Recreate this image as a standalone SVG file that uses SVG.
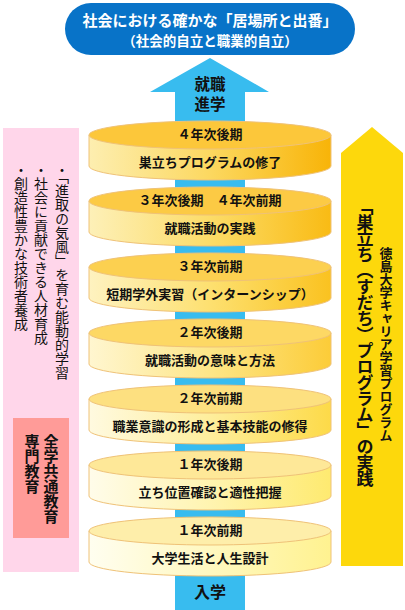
<svg xmlns="http://www.w3.org/2000/svg" width="405" height="610" viewBox="0 0 405 610">
<defs>
<style>
text{font-family:"Noto Sans CJK JP","Noto Sans",sans-serif;}
.b{font-weight:bold;}
.lbl{font-size:13px;font-weight:bold;fill:#111;text-anchor:middle;}
.cyl path,.cyl ellipse{stroke:#efc278;stroke-width:1;}
.vt{writing-mode:vertical-rl;}
</style>
<linearGradient id="g1" x1="0" x2="1" y1="0" y2="0"><stop offset="0" stop-color="#fdeeb0"/><stop offset="0.5" stop-color="#fcd860"/><stop offset="1" stop-color="#f8b408"/></linearGradient>
<linearGradient id="g2" x1="0" x2="1" y1="0" y2="0"><stop offset="0" stop-color="#fdf0b8"/><stop offset="0.5" stop-color="#fcdc68"/><stop offset="1" stop-color="#f9bb14"/></linearGradient>
<linearGradient id="g3" x1="0" x2="1" y1="0" y2="0"><stop offset="0" stop-color="#fef2c0"/><stop offset="0.5" stop-color="#fde070"/><stop offset="1" stop-color="#fac220"/></linearGradient>
<linearGradient id="g4" x1="0" x2="1" y1="0" y2="0"><stop offset="0" stop-color="#fff6d0"/><stop offset="0.5" stop-color="#fde688"/><stop offset="1" stop-color="#fccc38"/></linearGradient>
<linearGradient id="g5" x1="0" x2="1" y1="0" y2="0"><stop offset="0" stop-color="#fffae0"/><stop offset="0.5" stop-color="#feee9c"/><stop offset="1" stop-color="#fdda48"/></linearGradient>
<linearGradient id="g6" x1="0" x2="1" y1="0" y2="0"><stop offset="0" stop-color="#fffcea"/><stop offset="0.5" stop-color="#fff4b0"/><stop offset="1" stop-color="#feea70"/></linearGradient>
<linearGradient id="g7" x1="0" x2="1" y1="0" y2="0"><stop offset="0" stop-color="#fffef0"/><stop offset="0.5" stop-color="#fff8c0"/><stop offset="1" stop-color="#fff290"/></linearGradient>
</defs>
<rect width="405" height="610" fill="#ffffff"/>

<g id="left-panel">
<rect x="3" y="128" width="76" height="444" fill="#ffd6ea"/>
<text class="vt" x="62" y="163" font-size="14" fill="#111">・「進取の気風」を育む能動的学習</text>
<text class="vt" x="41" y="163" font-size="14" fill="#111">・社会に貢献できる人材育成</text>
<text class="vt" x="21" y="163" font-size="14" fill="#111">・創造性豊かな技術者養成</text>
</g>
<g id="education-box">
<rect x="13" y="418" width="56" height="120" fill="#ff9b98"/>
<text class="vt b" x="51" y="434" font-size="15" fill="#111">全学共通教育</text>
<text class="vt b" x="32" y="434" font-size="15" fill="#111">専門教育</text>
</g>

<g id="program-arrow">
<polygon points="341,153 372,127 403,153 403,566 341,566" fill="#fdd80c"/>
<text class="vt b" x="386" y="247" font-size="13" fill="#111">徳島大学キャリア学習プログラム</text>
<text class="vt b" x="365" y="198" font-size="17" fill="#111" letter-spacing="-1">「巣立ち（すだち）プログラム」の実践</text>
</g>

<g id="connectors">
<polygon points="210,58 269,92 245,92 245,610 175,610 175,92 150,92" fill="#38bcef"/>
</g>

<g id="goal">
<rect x="65" y="3" width="290" height="52" rx="26" ry="26" fill="#0873c8"/>
<text x="210" y="26" font-size="15" class="b" fill="#ffffff" text-anchor="middle">社会における確かな「居場所と出番」</text>
<text x="210" y="46" font-size="13.5" class="b" fill="#ffffff" text-anchor="middle">（社会的自立と職業的自立）</text>
</g>

<g id="exit-label">
<text x="210" y="90" font-size="15.5" class="b" fill="#111" text-anchor="middle">就職</text>
<text x="210" y="110" font-size="15.5" class="b" fill="#111" text-anchor="middle">進学</text>
</g>

<g id="cyl1" class="cyl">
<path d="M89,135 L89,166 A121,14 0 0 0 331,166 L331,135 Z" fill="url(#g1)"/>
<ellipse cx="210" cy="135" rx="121" ry="14" fill="#fcc73a"/>
<text class="lbl" x="210" y="139">４年次後期</text>
<text class="lbl" x="210" y="167">巣立ちプログラムの修了</text>
</g>
<g id="cyl2" class="cyl">
<path d="M89,201 L89,232 A121,14 0 0 0 331,232 L331,201 Z" fill="url(#g2)"/>
<ellipse cx="210" cy="201" rx="121" ry="14" fill="#fcca44"/>
<text class="lbl" x="210" y="205">３年次後期　４年次前期</text>
<text class="lbl" x="210" y="233">就職活動の実践</text>
</g>
<g id="cyl3" class="cyl">
<path d="M89,267 L89,298 A121,14 0 0 0 331,298 L331,267 Z" fill="url(#g3)"/>
<ellipse cx="210" cy="267" rx="121" ry="14" fill="#fcd050"/>
<text class="lbl" x="210" y="271">３年次前期</text>
<text class="lbl" x="210" y="299">短期学外実習（インターンシップ）</text>
</g>
<g id="cyl4" class="cyl">
<path d="M89,333 L89,364 A121,14 0 0 0 331,364 L331,333 Z" fill="url(#g4)"/>
<ellipse cx="210" cy="333" rx="121" ry="14" fill="#fdd864"/>
<text class="lbl" x="210" y="337">２年次後期</text>
<text class="lbl" x="210" y="365">就職活動の意味と方法</text>
</g>
<g id="cyl5" class="cyl">
<path d="M89,399 L89,430 A121,14 0 0 0 331,430 L331,399 Z" fill="url(#g5)"/>
<ellipse cx="210" cy="399" rx="121" ry="14" fill="#fde080"/>
<text class="lbl" x="210" y="403">２年次前期</text>
<text class="lbl" x="210" y="431">職業意識の形成と基本技能の修得</text>
</g>
<g id="cyl6" class="cyl">
<path d="M89,465 L89,496 A121,14 0 0 0 331,496 L331,465 Z" fill="url(#g6)"/>
<ellipse cx="210" cy="465" rx="121" ry="14" fill="#fee898"/>
<text class="lbl" x="210" y="469">１年次後期</text>
<text class="lbl" x="210" y="497">立ち位置確認と適性把握</text>
</g>
<g id="cyl7" class="cyl">
<path d="M89,531 L89,562 A121,14 0 0 0 331,562 L331,531 Z" fill="url(#g7)"/>
<ellipse cx="210" cy="531" rx="121" ry="14" fill="#feeeaa"/>
<text class="lbl" x="210" y="535">１年次前期</text>
<text class="lbl" x="210" y="563">大学生活と人生設計</text>
</g>

<g id="entry-label">
<text x="210" y="598" font-size="16" class="b" fill="#111" text-anchor="middle">入学</text>
</g>
</svg>
